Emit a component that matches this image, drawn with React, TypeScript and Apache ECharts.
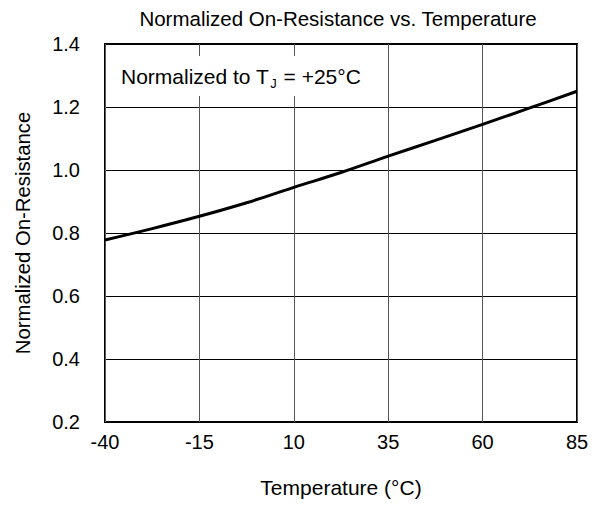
import React, { useEffect, useRef } from "react";
import * as echarts from "echarts";

const temperatures = [-40, -27.5, -15, -2.5, 10, 22.5, 35, 47.5, 60, 72.5, 85];
const resistance = [0.778, 0.814, 0.853, 0.896, 0.945, 0.992, 1.044, 1.094, 1.145, 1.197, 1.25];
const xTicks = [-40, -15, 10, 35, 60, 85];
const yTicks = [0.2, 0.4, 0.6, 0.8, 1.0, 1.2, 1.4];

export default function App() {
  const ref = useRef<HTMLDivElement>(null);
  useEffect(() => {
    if (!ref.current) return;
    const chart = echarts.init(ref.current, null, { renderer: "svg" });
    const font = "Liberation Sans, Arial, sans-serif";
    chart.setOption({
      animation: false,
      textStyle: { fontFamily: font },
      title: {
        text: "Normalized On-Resistance vs. Temperature",
        left: 333,
        textAlign: "center",
        top: 3,
        textStyle: { fontFamily: font, fontSize: 20.5, fontWeight: "normal", color: "#000" },
      },
      grid: {
        left: 105, right: 24, top: 44, bottom: 85,
        containLabel: false,
        outerBoundsMode: "none",
        show: true, borderColor: "#000", borderWidth: 2, backgroundColor: "transparent",
      },
      xAxis: {
        type: "value",
        min: xTicks[0],
        max: xTicks[xTicks.length - 1],
        interval: 25,
        name: "Temperature (°C)",
        nameLocation: "middle",
        nameGap: 55,
        nameTextStyle: { fontFamily: font, fontSize: 21, color: "#000" },
        axisLine: { show: false },
        axisTick: { show: false },
        axisLabel: { fontFamily: font, fontSize: 20, color: "#000", margin: 10 },
        splitLine: { show: true, lineStyle: { color: "#555", width: 1 } },
      },
      yAxis: {
        type: "value",
        min: yTicks[0],
        max: yTicks[yTicks.length - 1],
        interval: 0.2,
        name: "Normalized On-Resistance",
        nameLocation: "middle",
        nameGap: 72,
        nameTextStyle: { fontFamily: font, fontSize: 20.3, color: "#000" },
        axisLine: { show: false },
        axisTick: { show: false },
        axisLabel: { fontFamily: font, fontSize: 20, color: "#000", margin: 25, formatter: (v: number) => v.toFixed(1) },
        splitLine: { show: true, lineStyle: { color: "#000", width: 1 } },
      },
      series: [
        {
          type: "line",
          data: temperatures.map((t, i) => [t, resistance[i]]),
          smooth: 0.4,
          showSymbol: false,
          lineStyle: { color: "#000", width: 3 },
          z: 5,
        },
      ],
      graphic: [
        {
          type: "text",
          left: 116,
          top: 56,
          z: 10,
          style: {
            text: "{a|Normalized to T}{s|J}{a| = +25°C}",
            backgroundColor: "#fff",
            padding: [7, 5, 6, 5],
            rich: {
              a: { fontFamily: font, fontSize: 21, fill: "#000", color: "#000" },
              s: { fontFamily: font, fontSize: 13, fill: "#000", color: "#000", padding: [14, 1, 0, 1] },
            },
          },
        },
      ],
    });
    return () => chart.dispose();
  }, []);
  return <div ref={ref} style={{ width: 601, height: 507, position: "absolute", left: 0, top: 0, background: "#fff" }} />;
}
